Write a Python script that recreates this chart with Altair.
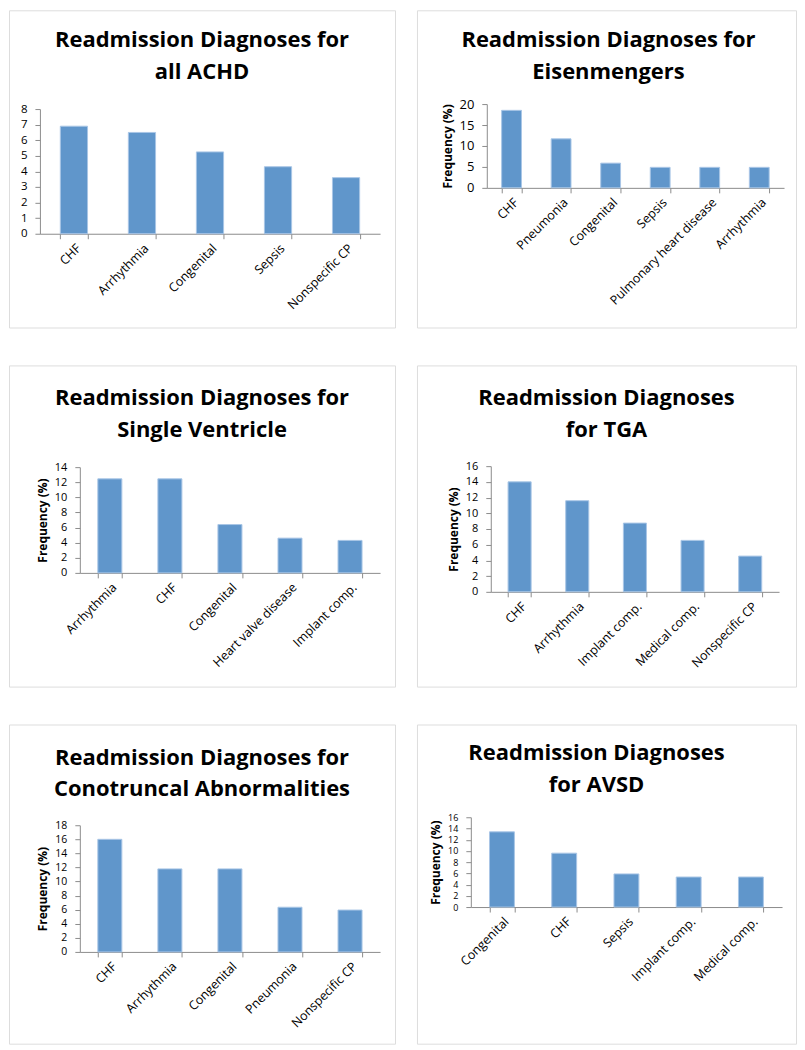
import altair as alt
import pandas as pd

# ---- data ----
titles = [
    ["Readmission Diagnoses for", "all ACHD"],
    ["Readmission Diagnoses for", "Eisenmengers"],
    ["Readmission Diagnoses for", "Single Ventricle"],
    ["Readmission Diagnoses", "for TGA"],
    ["Readmission Diagnoses for", "Conotruncal Abnormalities"],
    ["Readmission Diagnoses", "for AVSD"],
]
cats_achd = ["CHF", "Arrhythmia", "Congenital", "Sepsis", "Nonspecific CP"]
vals_achd = [6.9, 6.5, 5.25, 4.3, 3.6]
cats_eis = ["CHF", "Pneumonia", "Congenital", "Sepsis", "Pulmonary heart disease", "Arrhythmia"]
vals_eis = [18.5, 11.7, 5.9, 4.9, 4.9, 4.9]
cats_sv = ["Arrhythmia", "CHF", "Congenital", "Heart valve disease", "Implant comp."]
vals_sv = [12.45, 12.45, 6.4, 4.6, 4.3]
cats_tga = ["CHF", "Arrhythmia", "Implant comp.", "Medical comp.", "Nonspecific CP"]
vals_tga = [14.0, 11.6, 8.75, 6.55, 4.55]
cats_cono = ["CHF", "Arrhythmia", "Congenital", "Pneumonia", "Nonspecific CP"]
vals_cono = [16.0, 11.8, 11.8, 6.35, 5.95]
cats_avsd = ["Congenital", "CHF", "Sepsis", "Implant comp.", "Medical comp."]
vals_avsd = [13.4, 9.6, 5.9, 5.35, 5.35]
y_ticks = [list(range(0, 9, 1)), list(range(0, 21, 5)), list(range(0, 15, 2)),
           list(range(0, 17, 2)), list(range(0, 19, 2)), list(range(0, 17, 2))]
y_title = [None, "Frequency (%)", "Frequency (%)", "Frequency (%)", "Frequency (%)", "Frequency (%)"]

FONT = "Open Sans"
BAR = "#6096CB"
AXC = "#8c8c8c"


def panel(tl, cats, vals, ticks, ytitle, fw, fh, left, top, w, h, tdx, tb1, tb2, lab_fs=12):
    df = pd.DataFrame({"cat": cats, "val": vals})
    bottom = fh - top - h
    one = alt.Data(values=[{"k": 1}])
    tx = fw / 2 + tdx
    t1 = alt.Chart(one).mark_text(text=tl[0], font=FONT, fontWeight="bold", fontSize=22,
                                  align="center", baseline="alphabetic", color="black").encode(
        x=alt.value(tx), y=alt.value(tb1))
    t2 = alt.Chart(one).mark_text(text=tl[1], font=FONT, fontWeight="bold", fontSize=22,
                                  align="center", baseline="alphabetic", color="black").encode(
        x=alt.value(tx), y=alt.value(tb2))
    yaxis_kw = dict(values=ticks, grid=False, tickSize=5, tickColor=AXC, domainColor=AXC,
                    labelFont=FONT, labelFontSize=lab_fs, labelColor="black", labelPadding=8,
                    labelOverlap=False, offset=-left)
    if ytitle:
        yaxis_kw.update(title=ytitle, titleFont=FONT, titleFontSize=12, titleFontWeight="bold",
                        titleColor="black", titlePadding=5)
    else:
        yaxis_kw.update(title=None)
    bars = alt.Chart(df).mark_bar(color=BAR, stroke="#a9c6e6", strokeWidth=1).encode(
        x=alt.X("cat:N", sort=cats, title=None,
                scale=alt.Scale(paddingInner=0.6, paddingOuter=0.3, range=[left, left + w]),
                axis=alt.Axis(labelAngle=-45, labelFont=FONT, labelFontSize=12.5, labelColor="black",
                              tickBand="extent", tickSize=5, tickColor=AXC, domainColor=AXC,
                              labelPadding=3, labelOverlap=False, labelLimit=300,
                              offset=-bottom)),
        y=alt.Y("val:Q", scale=alt.Scale(domain=[ticks[0], ticks[-1]], nice=False,
                                         range=[top + h, top]),
                axis=alt.Axis(**yaxis_kw)),
    )
    return alt.layer(bars, t1, t2).properties(width=fw, height=fh)


p1 = panel(titles[0], cats_achd, vals_achd, y_ticks[0], y_title[0], 387, 318, 31, 99, 341, 125, 0, 37, 69, lab_fs=11.5)
p2 = panel(titles[1], cats_eis, vals_eis, y_ticks[1], y_title[1], 380, 318, 70, 94, 298, 84, 2, 37, 69, lab_fs=13)
p3 = panel(titles[2], cats_sv, vals_sv, y_ticks[2], y_title[2], 387, 322, 71, 102, 301, 106, 0, 40, 72, lab_fs=11)
p4 = panel(titles[3], cats_tga, vals_tga, y_ticks[3], y_title[3], 380, 322, 74, 101, 289, 126, 0, 40, 72, lab_fs=11)
p5 = panel(titles[4], cats_cono, vals_cono, y_ticks[4], y_title[4], 387, 320, 71, 101, 301, 127, 0, 41, 72, lab_fs=10.5)
p6 = panel(titles[5], cats_avsd, vals_avsd, y_ticks[5], y_title[5], 380, 320, 54, 93, 312, 90, -10, 36, 68, lab_fs=9)

chart = alt.vconcat(
    alt.hconcat(p1, p2, spacing=20),
    alt.hconcat(p3, p4, spacing=20),
    alt.hconcat(p5, p6, spacing=20),
    spacing=36,
).properties(padding=0).configure_view(stroke="#a6a6a6", strokeWidth=1.5).configure(background="white")

chart.save("out.html", embed_options={"renderer": "svg", "actions": False})
